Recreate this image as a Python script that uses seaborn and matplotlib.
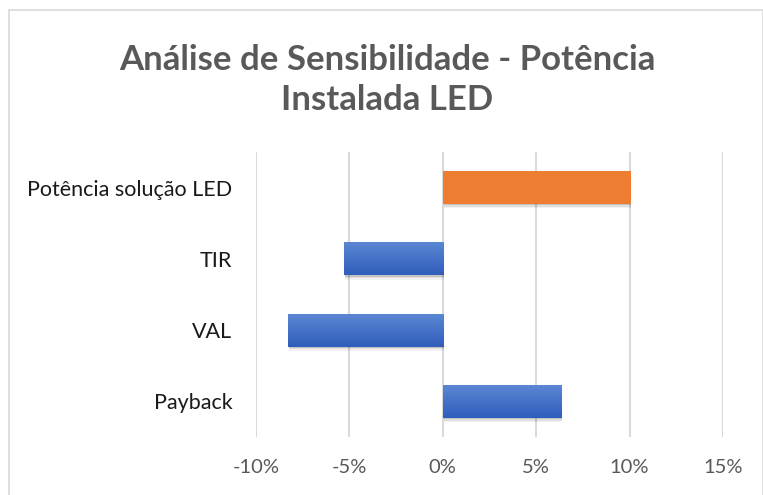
import numpy as np
import pandas as pd
import matplotlib
matplotlib.use("Agg")
import matplotlib.pyplot as plt
import seaborn as sns
from matplotlib.patches import Rectangle
from matplotlib.ticker import FuncFormatter
from matplotlib.colors import to_rgb

categories = ["Potência solução LED", "TIR", "VAL", "Payback"]
values = [10.05, -5.3, -8.3, 6.35]
bar_colors = ["#ED7D31", "#4472C4", "#4472C4", "#4472C4"]
xticks = [-10, -5, 0, 5, 10, 15]
title = "Análise de Sensibilidade - Potência\nInstalada LED"

sns.set_theme(style="white")
plt.rcParams["font.family"] = ["Lato", "DejaVu Sans"]

W, H = 763, 495
fig = plt.figure(figsize=(W / 100, H / 100), dpi=100)
fig.patch.set_facecolor("white")

left, right, top, bottom = 256, 723, 152, 437
ax = fig.add_axes([left / W, 1 - bottom / H, (right - left) / W, (bottom - top) / H])

df = pd.DataFrame({"cat": categories, "val": values})
sns.barplot(data=df, x="val", y="cat", hue="cat", palette=bar_colors,
            orient="h", width=0.46, legend=False, ax=ax, saturation=1,
            linewidth=0, zorder=3)

ylim = ax.get_ylim()
top_c = np.array(to_rgb("#5B86D3"))
bot_c = np.array(to_rgb("#2F5EBB"))
grad = np.linspace(0, 1, 50)[:, None]
grad_img = (top_c[None, :] * (1 - grad) + bot_c[None, :] * grad)[:, None, :]

for p, c in zip(list(ax.patches), bar_colors):
    p.set_linewidth(0)
    x0, y0 = p.get_x(), p.get_y()
    w, h = p.get_width(), p.get_height()
    for i, a in enumerate([0.12, 0.08, 0.05]):
        d = 0.02 + i * 0.02
        ax.add_patch(Rectangle((x0 + 0.05, y0 + d), w, h, color="black",
                               alpha=a, lw=0, zorder=2))
    if c == "#4472C4":
        im = ax.imshow(grad_img, extent=(x0, x0 + w, y0 + h, y0),
                       aspect="auto", origin="upper", zorder=4,
                       interpolation="bilinear")
        im.set_clip_path(p)

ax.set_xlim(-10, 15)
ax.set_ylim(ylim)
ax.set_xticks(xticks)
ax.xaxis.set_major_formatter(FuncFormatter(lambda v, _: f"{v:.0f}%"))
ax.grid(axis="x", color="#D9D9D9", lw=1.5, zorder=0)
ax.grid(axis="y", visible=False)
for s in ax.spines.values():
    s.set_visible(False)
ax.set_xlabel("")
ax.set_ylabel("")
ax.tick_params(axis="x", length=0, pad=16, labelsize=14.5, labelcolor="#595959")
ax.tick_params(axis="y", length=0, pad=17, labelsize=15.5, labelcolor="#1a1a1a")

fig.text(0.508, 1 - 80 / H, title, ha="center", va="center",
         fontsize=25, fontweight="bold", color="#595959", linespacing=1.3)

fig.add_artist(Rectangle((9 / W, -0.01), (W - 9) / W, 1 - 10 / H + 0.01,
                         transform=fig.transFigure, fill=False,
                         edgecolor="#D9D9D9", lw=1.2))

fig.savefig("out.png", dpi=100, facecolor="white")
